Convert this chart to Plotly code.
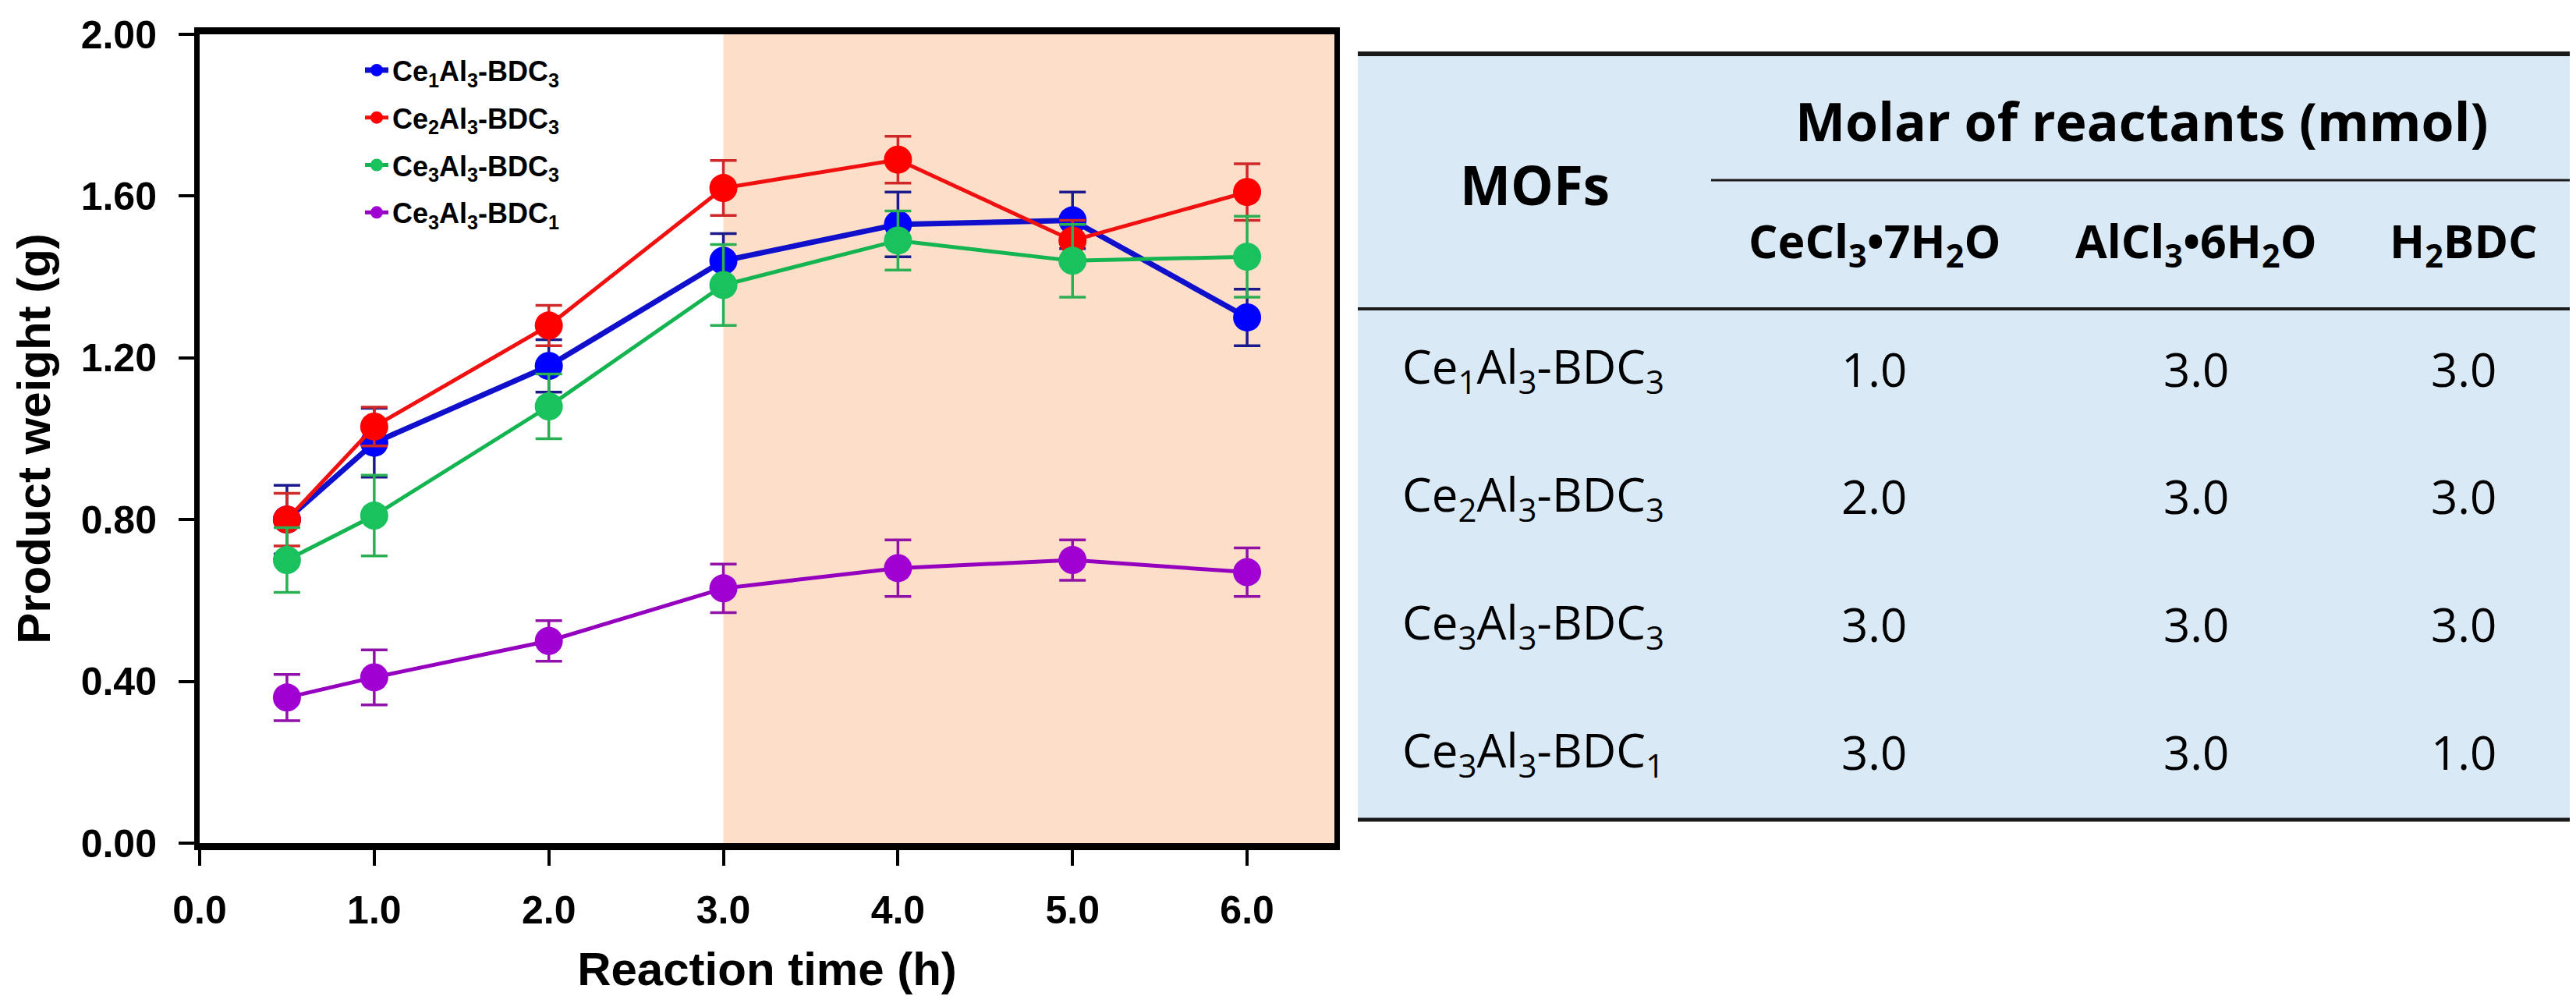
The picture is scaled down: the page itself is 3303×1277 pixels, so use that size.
import plotly.graph_objects as go

# ---- data ----
times = [0.5, 1.0, 2.0, 3.0, 4.0, 5.0, 6.0]

ce1al3_bdc3 = [0.80, 0.99, 1.18, 1.44, 1.53, 1.54, 1.30]
ce1al3_bdc3_err = [0.085, 0.085, 0.065, 0.067, 0.08, 0.07, 0.07]

ce2al3_bdc3 = [0.80, 1.03, 1.28, 1.62, 1.69, 1.49, 1.61]
ce2al3_bdc3_err = [0.065, 0.048, 0.05, 0.068, 0.058, 0.05, 0.07]

ce3al3_bdc3 = [0.70, 0.81, 1.08, 1.38, 1.49, 1.44, 1.45]
ce3al3_bdc3_err = [0.08, 0.10, 0.08, 0.10, 0.073, 0.09, 0.10]

ce3al3_bdc1 = [0.36, 0.41, 0.50, 0.63, 0.68, 0.70, 0.67]
ce3al3_bdc1_err = [0.057, 0.068, 0.05, 0.06, 0.07, 0.05, 0.06]

series_names = ["Ce<sub>1</sub>Al<sub>3</sub>-BDC<sub>3</sub>",
                "Ce<sub>2</sub>Al<sub>3</sub>-BDC<sub>3</sub>",
                "Ce<sub>3</sub>Al<sub>3</sub>-BDC<sub>3</sub>",
                "Ce<sub>3</sub>Al<sub>3</sub>-BDC<sub>1</sub>"]

shaded_range = [3.0, 6.5]

# table contents
table_mofs = series_names
table_cecl3 = ["1.0", "2.0", "3.0", "3.0"]
table_alcl3 = ["3.0", "3.0", "3.0", "3.0"]
table_h2bdc = ["3.0", "3.0", "3.0", "1.0"]
table_head = "Molar of reactants (mmol)"
table_subheads = ["CeCl<sub>3</sub>•7H<sub>2</sub>O",
                  "AlCl<sub>3</sub>•6H<sub>2</sub>O",
                  "H<sub>2</sub>BDC"]

# ---- canvas geometry (pixels) ----
W, H = 3303, 1277
PL, PR, PT, PB = 248, 1703, 36, 1073


def px(x):
    return (x - PL) / (PR - PL)


def py(y):
    return (PB - y) / (PB - PT)


styles = [
    dict(line="#1010CC", marker="#0000FF", err="#1A1A8C", width=7),
    dict(line="#F01010", marker="#FF0000", err="#D02828", width=5),
    dict(line="#14B450", marker="#19C25C", err="#2AB052", width=5),
    dict(line="#9400BE", marker="#A000D2", err="#9010A8", width=5),
]

fig = go.Figure()

ys = [ce1al3_bdc3, ce2al3_bdc3, ce3al3_bdc3, ce3al3_bdc1]
errs = [ce1al3_bdc3_err, ce2al3_bdc3_err, ce3al3_bdc3_err, ce3al3_bdc1_err]

for i, (name, y, e, st) in enumerate(zip(series_names, ys, errs, styles)):
    fig.add_trace(go.Scatter(
        x=times, y=y, name=name, mode="lines+markers",
        legendgroup=f"g{i}",
        line=dict(color=st["line"], width=st["width"]),
        marker=dict(color=st["marker"], size=36),
        error_y=dict(type="data", array=e, visible=True,
                     color=st["err"], thickness=3.5, width=17),
    ))

# shaded reaction-time window
fig.add_shape(type="rect", xref="x", yref="y domain",
              x0=shaded_range[0], x1=shaded_range[1], y0=0, y1=1,
              fillcolor="#FDDEC8", line_width=0, layer="below")

axis_font = dict(family="Liberation Sans, Arial", size=50, color="black", weight="bold")
title_font = dict(family="Liberation Sans, Arial", size=60, color="black", weight="bold")

fig.update_xaxes(
    range=[0, 6.5], dtick=1, tick0=0, tickformat=".1f",
    showline=True, linewidth=9, linecolor="black", mirror=True,
    ticks="outside", ticklen=20, tickwidth=4, tickcolor="black",
    tickfont=axis_font, ticklabelstandoff=14, automargin=False,
    title=dict(text="Reaction time (h)", font=title_font, standoff=30),
    showgrid=False, zeroline=False,
)
fig.update_yaxes(
    range=[0, 2.0], dtick=0.4, tick0=0, tickformat=".2f",
    showline=True, linewidth=7, linecolor="black", mirror=True,
    ticks="outside", ticklen=20, tickwidth=4, tickcolor="black",
    tickfont=axis_font, ticklabelstandoff=18, automargin=False,
    title=dict(text="Product weight (g)", font=title_font, standoff=22),
    showgrid=False, zeroline=False,
)

# ---- table on the right ----
TL, TR = 1733, 3303
T_TOP, T_BOT = 61, 1043
T_MID, T_HEAD = 223, 388
T_MID_LEFT = 2186
col_x = [1960, 2395, 2808, 3151]
row_y = [465, 628, 792, 956]
row_label_x = 1788

fig.add_shape(type="rect", xref="paper", yref="paper",
              x0=px(TL), x1=px(TR), y0=py(T_BOT), y1=py(T_TOP),
              fillcolor="#DAE9F6", line_width=0, layer="below")
for y0, xl, lw in [(T_TOP, TL, 6), (T_MID, T_MID_LEFT, 3), (T_HEAD, TL, 4), (T_BOT, TL, 5)]:
    fig.add_shape(type="line", xref="paper", yref="paper",
                  x0=px(xl), x1=px(TR), y0=py(y0), y1=py(y0),
                  line=dict(color="#1A1A1A", width=lw))

tfont = "Open Sans, Noto Sans, DejaVu Sans"
ann = []
ann.append(dict(text="<b>MOFs</b>", x=px(col_x[0]), y=py(228),
                font=dict(family=tfont, size=69, color="black")))
ann.append(dict(text=f"<b>{table_head}</b>", x=px(2738), y=py(146),
                font=dict(family=tfont, size=68, color="black")))
for cx, sh in zip(col_x[1:], table_subheads):
    ann.append(dict(text=f"<b>{sh}</b>", x=px(cx), y=py(303),
                    font=dict(family=tfont, size=59, color="black")))
for r, ry in enumerate(row_y):
    ann.append(dict(text=table_mofs[r], x=px(row_label_x), y=py(ry), xanchor="left",
                    font=dict(family=tfont, size=60, color="black")))
    for cx, col in zip(col_x[1:], [table_cecl3, table_alcl3, table_h2bdc]):
        ann.append(dict(text=col[r], x=px(cx), y=py(ry),
                        font=dict(family=tfont, size=60, color="black")))
for a in ann:
    a.setdefault("xanchor", "center")
    fig.add_annotation(xref="paper", yref="paper", showarrow=False,
                       yanchor="middle", **a)

fig.update_layout(
    width=W, height=H,
    margin=dict(l=PL, r=W - PR, t=PT, b=H - PB, autoexpand=False),
    plot_bgcolor="white", paper_bgcolor="white",
    showlegend=True,
    legend=dict(x=px(455), y=py(52), xanchor="left", yanchor="top",
                bgcolor="rgba(0,0,0,0)", tracegroupgap=11,
                font=dict(family="Liberation Sans, Arial", size=36, color="black", weight="bold")),
)

fig.write_html("out.html")
